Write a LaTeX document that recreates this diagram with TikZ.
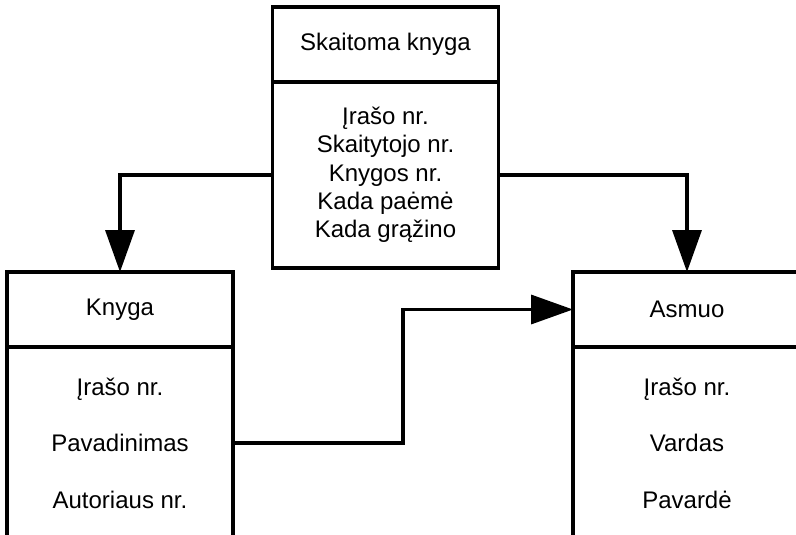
\documentclass[tikz,border=0pt]{standalone}
\usepackage{fontspec}
\setmainfont{Liberation Sans}
\usetikzlibrary{arrows.meta,positioning}

\begin{document}
\begin{tikzpicture}[x=1pt,y=-1pt,->,>={Triangle[length=42pt,width=29pt]},line width=3.5pt,
	node distance=0pt,
	head node/.style={rectangle,draw,outer sep=0pt,inner sep=0pt,minimum width=226pt,
		minimum height=75pt,font=\fontsize{24}{28}\selectfont},
	body node/.style={rectangle,draw,outer sep=0pt,inner sep=0pt,minimum width=226pt,
		align=center,font=\fontsize{24}{56.5}\selectfont}]
	
	\path[use as bounding box] (0,0) rectangle (796,535);
	\clip (0,0) rectangle (796,535);
	
	\node[head node] (1) at (385.5,44.5) {Skaitoma knyga};
	\node[body node, minimum height=186pt, font=\fontsize{24}{28.25}\selectfont] (1b) [below=of 1]
		{Įrašo nr.\\Skaitytojo nr.\\Knygos nr.\\Kada paėmė\\Kada grąžino};
	\node[head node] (2) at (120,309.5) {Knyga};
	\node[body node, minimum height=192pt] (2b) [below=of 2] {Įrašo nr.\\Pavadinimas\\Autoriaus nr.};
	\node[head node, minimum width=228pt] (3) at (687,309.5) {Asmuo};
	\node[body node, minimum width=228pt, minimum height=192pt] (3b) [below=of 3] {Įrašo nr.\\Vardas\\Pavardė};
	
	\draw (1b.west) -| (2.north);
	\draw (1b.east) -| (3.north);
	\draw (2b.east) -- ++(170,0) |- (3.west);
\end{tikzpicture}
\end{document}
